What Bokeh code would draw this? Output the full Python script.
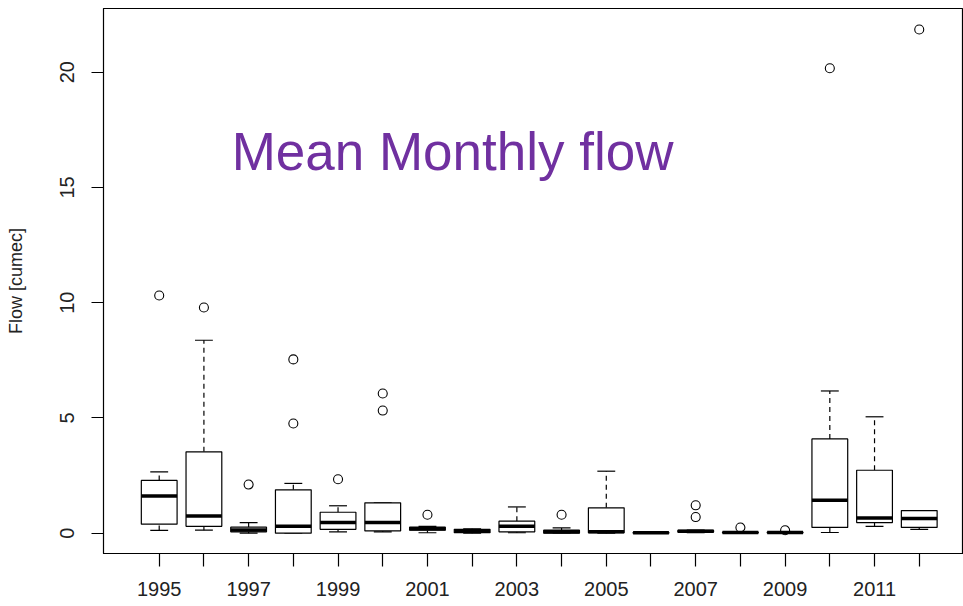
from bokeh.plotting import figure
from bokeh.models import FixedTicker, Label, Range1d
from bokeh.embed import file_html
from bokeh.resources import INLINE

# ---- data ----
years = [1995, 1996, 1997, 1998, 1999, 2000, 2001, 2002, 2003,
         2004, 2005, 2006, 2007, 2008, 2009, 2010, 2011, 2012]
whisker_low = [0.12, 0.13, 0.00, 0.00, 0.06, 0.06, 0.02, 0.00, 0.02,
               0.00, 0.00, 0.00, 0.02, 0.00, 0.00, 0.03, 0.30, 0.17]
q1 = [0.39, 0.30, 0.06, 0.00, 0.17, 0.10, 0.13, 0.02, 0.06,
      0.00, 0.02, 0.00, 0.05, 0.01, 0.01, 0.25, 0.46, 0.25]
median = [1.61, 0.75, 0.14, 0.30, 0.46, 0.46, 0.19, 0.09, 0.30,
          0.06, 0.06, 0.02, 0.09, 0.03, 0.03, 1.43, 0.66, 0.64]
q3 = [2.29, 3.53, 0.26, 1.88, 0.91, 1.32, 0.26, 0.17, 0.52,
      0.13, 1.10, 0.04, 0.12, 0.05, 0.05, 4.09, 2.73, 0.98]
whisker_high = [2.66, 8.37, 0.46, 2.16, 1.19, 1.32, 0.30, 0.19, 1.14,
                0.23, 2.69, 0.05, 0.14, 0.07, 0.06, 6.17, 5.05, 0.98]
outlier_years = [1995, 1996, 1997, 1998, 1998, 1999, 2000, 2000, 2001,
                 2004, 2007, 2007, 2008, 2009, 2010, 2012]
outlier_values = [10.31, 9.79, 2.11, 4.76, 7.54, 2.34, 5.32, 6.06, 0.80,
                  0.80, 0.70, 1.21, 0.25, 0.13, 20.17, 21.85]
y_ticks = [0, 5, 10, 15, 20]
labelled_years = [1995, 1997, 1999, 2001, 2003, 2005, 2007, 2009, 2011]
title_text = "Mean Monthly flow"
y_label = "Flow [cumec]"

BOX_W = 0.8
STAPLE_W = 0.4
FONT = "Liberation Sans"

p = figure(width=963, height=605, output_backend="svg", toolbar_location=None,
           x_range=Range1d(1993.754, 2012.99), y_range=Range1d(-0.88, 22.76),
           min_border_left=103, min_border_right=0, min_border_top=8,
           min_border_bottom=52)
p.background_fill_color = "white"
p.border_fill_color = "white"
p.outline_line_color = "black"
p.outline_line_width = 1.2
p.xgrid.visible = False
p.ygrid.visible = False

# whiskers (dashed)
p.segment(x0=years, x1=years, y0=q3, y1=whisker_high, line_color="black",
          line_width=1.2, line_dash="5 4")
p.segment(x0=years, x1=years, y0=whisker_low, y1=q1, line_color="black",
          line_width=1.2, line_dash="5 4")
# staples
p.segment(x0=[y - STAPLE_W / 2 for y in years], x1=[y + STAPLE_W / 2 for y in years],
          y0=whisker_high, y1=whisker_high, line_color="black", line_width=1.2)
p.segment(x0=[y - STAPLE_W / 2 for y in years], x1=[y + STAPLE_W / 2 for y in years],
          y0=whisker_low, y1=whisker_low, line_color="black", line_width=1.2)
# boxes
p.vbar(x=years, width=BOX_W, bottom=q1, top=q3, fill_color="white",
       line_color="black", line_width=1.2)
# medians
p.segment(x0=[y - BOX_W / 2 for y in years], x1=[y + BOX_W / 2 for y in years],
          y0=median, y1=median, line_color="black", line_width=3.5)
# outliers
p.scatter(x=outlier_years, y=outlier_values, marker="circle", size=9,
          fill_color=None, line_color="black", line_width=1.1)

# axes
p.xaxis.ticker = FixedTicker(ticks=years)
p.xaxis.major_label_overrides = {y: (str(y) if y in labelled_years else "") for y in years}
p.yaxis.ticker = FixedTicker(ticks=y_ticks)
for ax in (p.xaxis[0], p.yaxis[0]):
    ax.minor_tick_line_color = None
    ax.major_tick_in = 0
    ax.axis_line_color = "black"
    ax.major_tick_line_color = "black"
    ax.major_tick_line_width = 1.2
    ax.major_label_text_font = FONT
    ax.major_label_text_font_size = "20px"
    ax.major_label_text_color = "#222222"
p.xaxis.major_tick_out = 13
p.xaxis.major_label_standoff = 15
p.yaxis.major_tick_out = 12
p.yaxis.major_label_orientation = "vertical"
p.yaxis.major_label_standoff = 17
p.yaxis.axis_label = y_label
p.yaxis.axis_label_text_font = FONT
p.yaxis.axis_label_text_font_size = "18px"
p.yaxis.axis_label_text_font_style = "normal"
p.yaxis.axis_label_text_color = "#222222"
p.yaxis.axis_label_standoff = 32

title = Label(x=1996.62, y=16.57, text=title_text, text_font=FONT,
              text_font_size="53px", text_color="#7030A0",
              text_align="left", text_baseline="alphabetic")
p.add_layout(title)

open("out.html", "w").write(file_html(p, INLINE))
